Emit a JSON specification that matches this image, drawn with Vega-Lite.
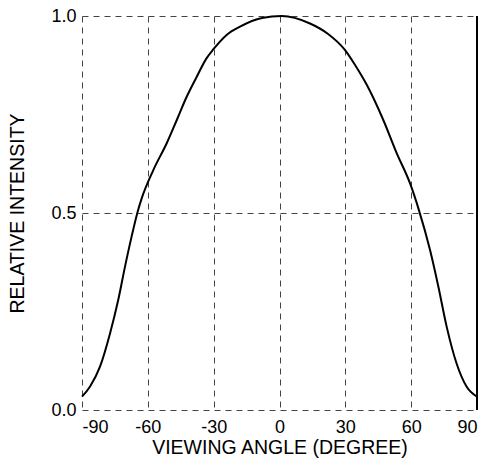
{
  "$schema": "https://vega.github.io/schema/vega-lite/v6.json",
  "width": 395,
  "height": 394,
  "autosize": {"type": "none"},
  "padding": {"left": 82, "top": 16, "right": 17, "bottom": 49},
  "background": "white",
  "config": {
    "view": {"stroke": null},
    "font": "Liberation Sans",
    "axis": {
      "labelFont": "Liberation Sans",
      "titleFont": "Liberation Sans",
      "labelColor": "black",
      "titleColor": "black",
      "labelFontSize": 18,
      "titleFontSize": 19.5,
      "titleFontWeight": "normal",
      "domain": false,
      "ticks": false,
      "grid": true,
      "gridColor": "#444",
      "gridDash": [6, 5],
      "gridWidth": 1,
      "gridOpacity": 1
    }
  },
  "data": {
    "values": [
      {"angle": -90, "intensity": 0.034},
      {"angle": -86.4, "intensity": 0.059},
      {"angle": -81.8, "intensity": 0.11},
      {"angle": -77.2, "intensity": 0.195},
      {"angle": -73.5, "intensity": 0.279},
      {"angle": -70.4, "intensity": 0.364},
      {"angle": -67.4, "intensity": 0.44},
      {"angle": -64.7, "intensity": 0.502},
      {"angle": -62.8, "intensity": 0.537},
      {"angle": -57.5, "intensity": 0.609},
      {"angle": -51.4, "intensity": 0.677},
      {"angle": -46.8, "intensity": 0.736},
      {"angle": -42.3, "intensity": 0.795},
      {"angle": -37.7, "intensity": 0.846},
      {"angle": -33.2, "intensity": 0.893},
      {"angle": -30.2, "intensity": 0.915},
      {"angle": -24.1, "intensity": 0.952},
      {"angle": -18.0, "intensity": 0.973},
      {"angle": -8, "intensity": 0.995},
      {"angle": 1, "intensity": 1.0},
      {"angle": 13.9, "intensity": 0.981},
      {"angle": 22, "intensity": 0.955},
      {"angle": 29.8, "intensity": 0.914},
      {"angle": 34.5, "intensity": 0.875},
      {"angle": 39.7, "intensity": 0.826},
      {"angle": 47.3, "intensity": 0.736},
      {"angle": 53.4, "intensity": 0.652},
      {"angle": 59.5, "intensity": 0.575},
      {"angle": 63.5, "intensity": 0.508},
      {"angle": 68.6, "intensity": 0.406},
      {"angle": 72.4, "intensity": 0.313},
      {"angle": 76.2, "intensity": 0.211},
      {"angle": 80.7, "intensity": 0.118},
      {"angle": 85.3, "intensity": 0.059},
      {"angle": 90, "intensity": 0.034}
    ]
  },
  "layer": [
    {
      "mark": {"type": "line", "color": "black", "strokeWidth": 2, "interpolate": "monotone"},
      "encoding": {
        "x": {
          "field": "angle", "type": "quantitative",
          "scale": {"domain": [-90, 90], "nice": false},
          "axis": {"values": [-90, -60, -30, 0, 30, 60, 90], "labelExpr": "datum.value + ''", "labelPadding": 8, "title": "VIEWING ANGLE (DEGREE)", "titleX": 197.5, "titleY": 43.5, "titleBaseline": "alphabetic", "titleAnchor": "middle"}
        },
        "y": {
          "field": "intensity", "type": "quantitative",
          "scale": {"domain": [0, 1], "nice": false},
          "axis": {"values": [0, 0.5, 1], "format": ".1f", "labelPadding": 6, "title": "RELATIVE  INTENSITY", "titleX": -59, "titleY": 197, "titleBaseline": "alphabetic", "titleAnchor": "middle"}
        }
      }
    },
    {
      "mark": {"type": "rule", "color": "black", "strokeWidth": 1.5},
      "encoding": {"x": {"datum": 90, "type": "quantitative"}}
    }
  ]
}
